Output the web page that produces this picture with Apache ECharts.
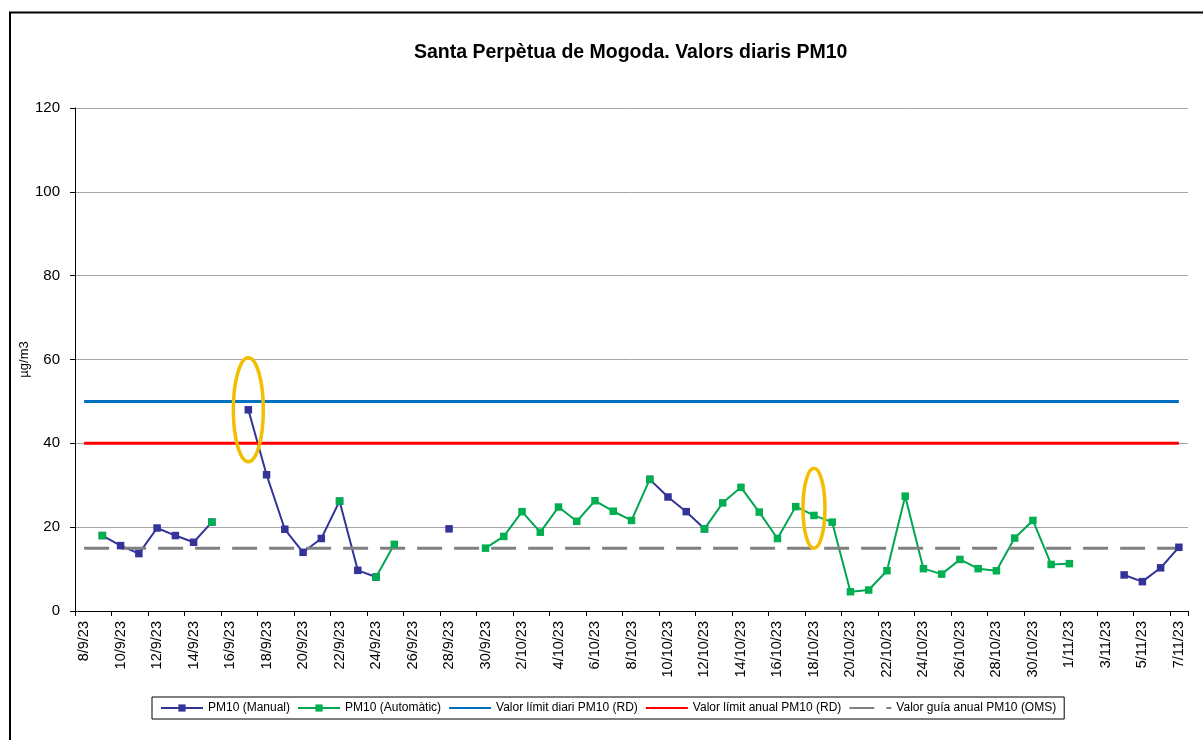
<!DOCTYPE html>
<html>
<head>
<meta charset="utf-8">
<script src="https://cdn.jsdelivr.net/npm/echarts@6/dist/echarts.min.js"></script>
<style>
  html, body { margin: 0; padding: 0; background: #fff; }
  #main { width: 1203px; height: 740px; }
</style>
</head>
<body>
<div id="main"></div>
<script>
var dates = [
  '8/9/23','9/9/23','10/9/23','11/9/23','12/9/23','13/9/23','14/9/23','15/9/23','16/9/23','17/9/23',
  '18/9/23','19/9/23','20/9/23','21/9/23','22/9/23','23/9/23','24/9/23','25/9/23','26/9/23','27/9/23',
  '28/9/23','29/9/23','30/9/23',
  '1/10/23','2/10/23','3/10/23','4/10/23','5/10/23','6/10/23','7/10/23','8/10/23','9/10/23','10/10/23',
  '11/10/23','12/10/23','13/10/23','14/10/23','15/10/23','16/10/23','17/10/23','18/10/23','19/10/23','20/10/23',
  '21/10/23','22/10/23','23/10/23','24/10/23','25/10/23','26/10/23','27/10/23','28/10/23','29/10/23','30/10/23',
  '31/10/23',
  '1/11/23','2/11/23','3/11/23','4/11/23','5/11/23','6/11/23','7/11/23'
];

// PM10 manual sampler
var manual = [
  null, 18.0, 15.6, 13.7, 19.8, 18.0, 16.4, 21.2, null, 48.0,
  32.5, 19.5, 14.0, 17.3, 26.2, 9.7, 8.1, null, null, null,
  19.6, null, null,
  null, null, null, null, null, null, null, null, 31.4, 27.2,
  23.7, 19.6, null, null, null, null, null, null, null, null,
  null, null, null, null, null, null, null, null, null, null,
  null,
  null, null, null, 8.6, 7.0, 10.3, 15.2
];

// PM10 automatic analyser
var automatic = [
  null, 18.0, null, null, null, null, null, 21.2, null, null,
  null, null, null, null, 26.2, null, 8.1, 15.9, null, null,
  null, null, 15.0,
  17.8, 23.7, 18.8, 24.8, 21.4, 26.3, 23.8, 21.6, 31.4, null,
  null, 19.6, 25.8, 29.5, 23.6, 17.3, 24.9, 22.8, 21.2, 4.6,
  5.0, 9.6, 27.4, 10.1, 8.8, 12.3, 10.1, 9.6, 17.4, 21.6,
  11.1,
  11.3, null, null, null, null, null, null
];

var limitDaily = 50;
var limitAnnual = 40;
var guideWHO = 15;

var yTicks = [0, 20, 40, 60, 80, 100, 120];

// highlighted days (yellow rings)
var ringDates = ['17/9/23', '18/10/23'];
var ringValues = [48, 24.5];
var ringRadii = [[15, 52], [11, 40]];

function constant(v) {
  return dates.map(function () { return v; });
}

var chart = echarts.init(document.getElementById('main'));
var font = 'Liberation Sans, Arial, sans-serif';

var option = {
  animation: false,
  textStyle: { fontFamily: font },
  title: {
    text: 'Santa Perpètua de Mogoda. Valors diaris PM10',
    left: 409,
    top: 38,
    textStyle: { fontSize: 19.5, fontWeight: 'bold', color: '#000', fontFamily: font }
  },
  legend: {
    left: 152,
    top: 697,
    padding: [5, 8, 5, 8],
    itemGap: 7,
    itemWidth: 42,
    itemHeight: 9,
    borderColor: '#000',
    borderWidth: 1,
    textStyle: { fontSize: 12, color: '#000', fontFamily: font },
    data: [
      'PM10 (Manual)',
      'PM10 (Automàtic)',
      { name: 'Valor límit diari PM10 (RD)', itemStyle: { opacity: 0 } },
      { name: 'Valor límit anual PM10 (RD)', itemStyle: { opacity: 0 } },
      { name: 'Valor guía anual PM10 (OMS)', itemStyle: { opacity: 0 } }
    ]
  },
  grid: { left: 75, right: 15, top: 108, bottom: 129, containLabel: false },
  xAxis: {
    type: 'category',
    data: dates,
    boundaryGap: true,
    axisLine: { lineStyle: { color: '#000', width: 1 } },
    axisTick: { show: true, interval: 1, length: 5, lineStyle: { color: '#000' } },
    axisLabel: { interval: 1, rotate: 90, margin: 10, fontSize: 14.5, color: '#000', fontFamily: font },
    splitLine: { show: false }
  },
  yAxis: {
    type: 'value',
    min: yTicks[0],
    max: yTicks[yTicks.length - 1],
    interval: 20,
    name: 'µg/m3',
    nameLocation: 'middle',
    nameGap: 44,
    nameMoveOverlap: false,
    nameRotate: 90,
    nameTextStyle: { fontSize: 13, color: '#000', fontFamily: font },
    axisLine: { show: true, lineStyle: { color: '#000', width: 1 } },
    axisTick: { show: true, length: 5, lineStyle: { color: '#000' } },
    axisLabel: { margin: 15, fontSize: 15, color: '#000', fontFamily: font },
    splitLine: { show: true, lineStyle: { color: '#a6a6a6', width: 1 } }
  },
  series: [
    {
      name: 'PM10 (Manual)',
      type: 'line',
      data: manual,
      connectNulls: false,
      symbol: 'rect',
      symbolSize: 7.5,
      showAllSymbol: true,
      itemStyle: { color: '#333399' },
      lineStyle: { color: '#333399', width: 2 }
    },
    {
      name: 'PM10 (Automàtic)',
      type: 'line',
      data: automatic,
      connectNulls: false,
      symbol: 'rect',
      symbolSize: 7.5,
      showAllSymbol: true,
      itemStyle: { color: '#00B050' },
      lineStyle: { color: '#00A651', width: 2 }
    },
    {
      name: 'Valor límit diari PM10 (RD)',
      type: 'line',
      data: constant(limitDaily),
      symbol: 'none',
      itemStyle: { color: '#0070C0' },
      lineStyle: { color: '#0070C0', width: 3 }
    },
    {
      name: 'Valor límit anual PM10 (RD)',
      type: 'line',
      data: constant(limitAnnual),
      symbol: 'none',
      itemStyle: { color: '#FF0000' },
      lineStyle: { color: '#FF0000', width: 3 }
    },
    {
      name: 'Valor guía anual PM10 (OMS)',
      type: 'line',
      data: constant(guideWHO),
      symbol: 'none',
      itemStyle: { color: '#808080' },
      lineStyle: { color: '#808080', width: 3, type: [25, 12], cap: 'butt' }
    }
  ]
};

chart.setOption(option);

// outer frame + yellow rings placed through the chart's own scales
var graphics = [{
  type: 'rect',
  shape: { x: 10, y: 12.5, width: 1300, height: 900 },
  style: { fill: 'none', stroke: '#000', lineWidth: 2 },
  silent: true
}];
ringDates.forEach(function (d, i) {
  var p = chart.convertToPixel({ xAxisIndex: 0, yAxisIndex: 0 }, [dates.indexOf(d), ringValues[i]]);
  graphics.push({
    type: 'ellipse',
    shape: { cx: p[0], cy: p[1], rx: ringRadii[i][0], ry: ringRadii[i][1] },
    style: { fill: 'none', stroke: '#F2BE00', lineWidth: 3.5 },
    z: 100,
    silent: true
  });
});
chart.setOption({ graphic: graphics });
</script>
</body>
</html>
